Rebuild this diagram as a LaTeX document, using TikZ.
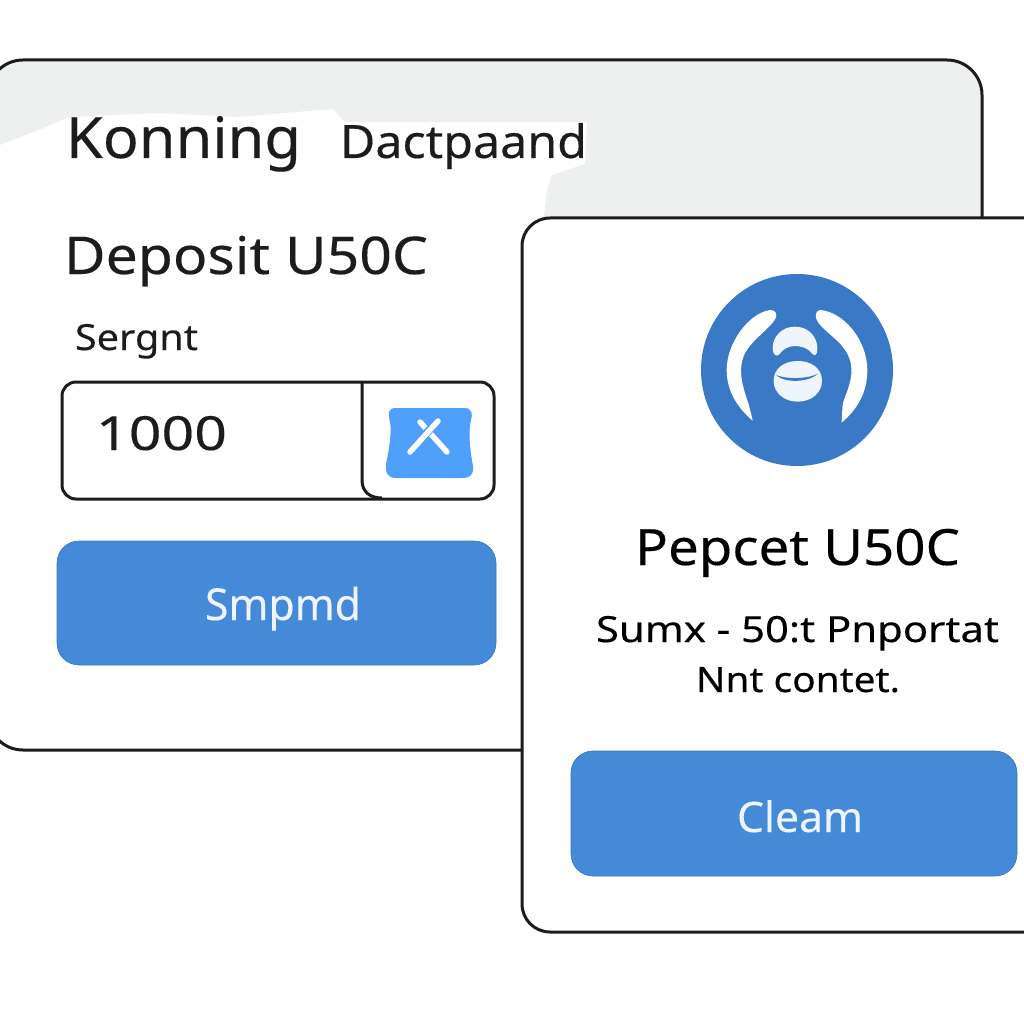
\documentclass[tikz,border=0pt]{standalone}
\usepackage{fontspec}
\usepackage{graphicx}
\setmainfont{Noto Sans}[FakeBold=0.25]
\definecolor{ink}{HTML}{1C1C1C}
\definecolor{headgrey}{HTML}{EEEFEF}
\definecolor{btnblue}{HTML}{4589D9}
\definecolor{discblue}{HTML}{3A79C6}
\definecolor{iconblue}{HTML}{4EA0FB}
\definecolor{softwhite}{HTML}{EEF5FC}
\newcommand{\fitline}[3]{\resizebox{#1pt}{\height}{\fontsize{#2pt}{#2pt}\selectfont #3}}
\tikzset{
  frame/.style={draw=ink,line width=3pt,fill=white},
  btn/.style={fill=btnblue,draw=btnblue!85!black,line width=0.6pt},
  label/.style={anchor=base west,inner sep=0pt,outer sep=0pt},
}
\begin{document}
\begin{tikzpicture}[x=1pt,y=-1pt]
\useasboundingbox (0,0) rectangle (1024,1024);
% back card
\begin{scope}
\clip[rounded corners=35pt] (-12,60) -- (982,60) -- (982,750) -- (-12,750) -- cycle;
\fill[headgrey] (-12,60) -- (990,60) -- (990,225) -- (543,225) -- (547,190) -- (552,175) -- (585,164) -- (587,122) -- (345,122) -- (333,109) -- (237,117) -- (161,113) -- (69,117) -- (46,127) -- (0,145) -- (-12,150) -- cycle;
\end{scope}
\draw[ink,line width=3pt,rounded corners=35pt] (-12,60) -- (982,60) -- (982,750) -- (-12,750) -- cycle;
\node[label,text=ink] (title) at (66,158) {\fitline{235}{57}{Konning}};
\node[label,text=ink] (subtitle) at (340,158) {\fitline{247}{46}{Dactpaand}};
\node[label,text=ink] (deposit) at (64,274) {\fitline{364}{52}{Deposit U50C}};
\node[label,text=ink] (field) at (75,350) {\fitline{123}{36}{Sergnt}};
% input
\draw[frame,rounded corners=14pt] (62,382) rectangle (494,499);
\draw[ink,line width=3pt] (362,382) -- (362,480) .. controls (362,492) and (370,498) .. (382,498);
\node[label,text=ink] (amount) at (96,450) {\fitline{131}{47}{1000}};
\fill[iconblue] (396,408) -- (464,408) .. controls (472,408) and (473,414) .. (471,420) .. controls (468,432) and (470,450) .. (473,466) .. controls (474,475) and (470,478) .. (462,478) -- (396,478) .. controls (388,478) and (385,473) .. (386,464) .. controls (389,450) and (392,432) .. (390,422) .. controls (388,413) and (388,408) .. (396,408) -- cycle;
\draw[white,line width=5.5pt,line cap=round] (420,422) -- (447,452);
\draw[iconblue,line width=8pt] (414,446) -- (437,422);
\draw[white,line width=5.5pt,line cap=round] (410,452) -- (438,421);
% button 1
\draw[btn,rounded corners=22pt] (57,541) rectangle (496,665);
\node[label,text=softwhite] (send) at (205,620) {\fitline{156}{44}{Smpmd}};
% front card
\draw[frame,rounded corners=28pt] (1060,218) -- (522,218) -- (522,932) -- (1060,932);
% disc
\fill[discblue] (797,370) circle[radius=96];
\begin{scope}[shift={(680,260)},x=0.3333pt,y=-0.3333pt]
\fill[white] (270,150) .. controls (285,150) and (295,160) .. (285,178) .. controls (270,205) and (215,240) .. (195,280) .. controls (170,330) and (190,385) .. (205,430) .. controls (210,450) and (215,465) .. (218,482) .. controls (180,450) and (140,400) .. (140,330) .. controls (140,250) and (205,160) .. (270,150) -- cycle;
\fill[white] (420,150) .. controls (405,152) and (403,172) .. (415,188) .. controls (440,222) and (490,245) .. (508,295) .. controls (525,340) and (505,385) .. (490,425) .. controls (485,445) and (487,470) .. (485,488) .. controls (530,450) and (562,400) .. (562,330) .. controls (562,240) and (490,155) .. (420,150) -- cycle;
\fill[softwhite] (345,200) .. controls (385,200) and (412,230) .. (412,265) .. controls (412,285) and (405,290) .. (398,282) .. controls (385,265) and (365,258) .. (345,258) .. controls (325,258) and (308,268) .. (298,283) .. controls (290,292) and (278,285) .. (278,265) .. controls (278,230) and (305,200) .. (345,200) -- cycle;
\fill[softwhite] (353,303) .. controls (395,303) and (426,325) .. (426,363) .. controls (426,398) and (395,425) .. (353,425) .. controls (312,425) and (281,398) .. (281,363) .. controls (281,325) and (312,303) .. (353,303) -- cycle;
\fill[discblue] (288,345) .. controls (320,358) and (380,358) .. (414,341) .. controls (385,368) and (315,370) .. (288,345) -- cycle;
\end{scope}
\node[label,text=black] (peptitle) at (635,565) {\fitline{325}{50}{Pepcet U50C}};
\node[label,text=black] (line1) at (596,642) {\fitline{403}{36}{Sumx - 50:t Pnportat}};
\node[label,text=black] (line2) at (696,692) {\fitline{204}{35}{Nnt contet.}};
% button 2
\draw[btn,rounded corners=22pt] (571,751) rectangle (1017,876);
\node[label,text=softwhite] (claim) at (737,832) {\fitline{126}{42}{Cleam}};
\end{tikzpicture}
\end{document}
